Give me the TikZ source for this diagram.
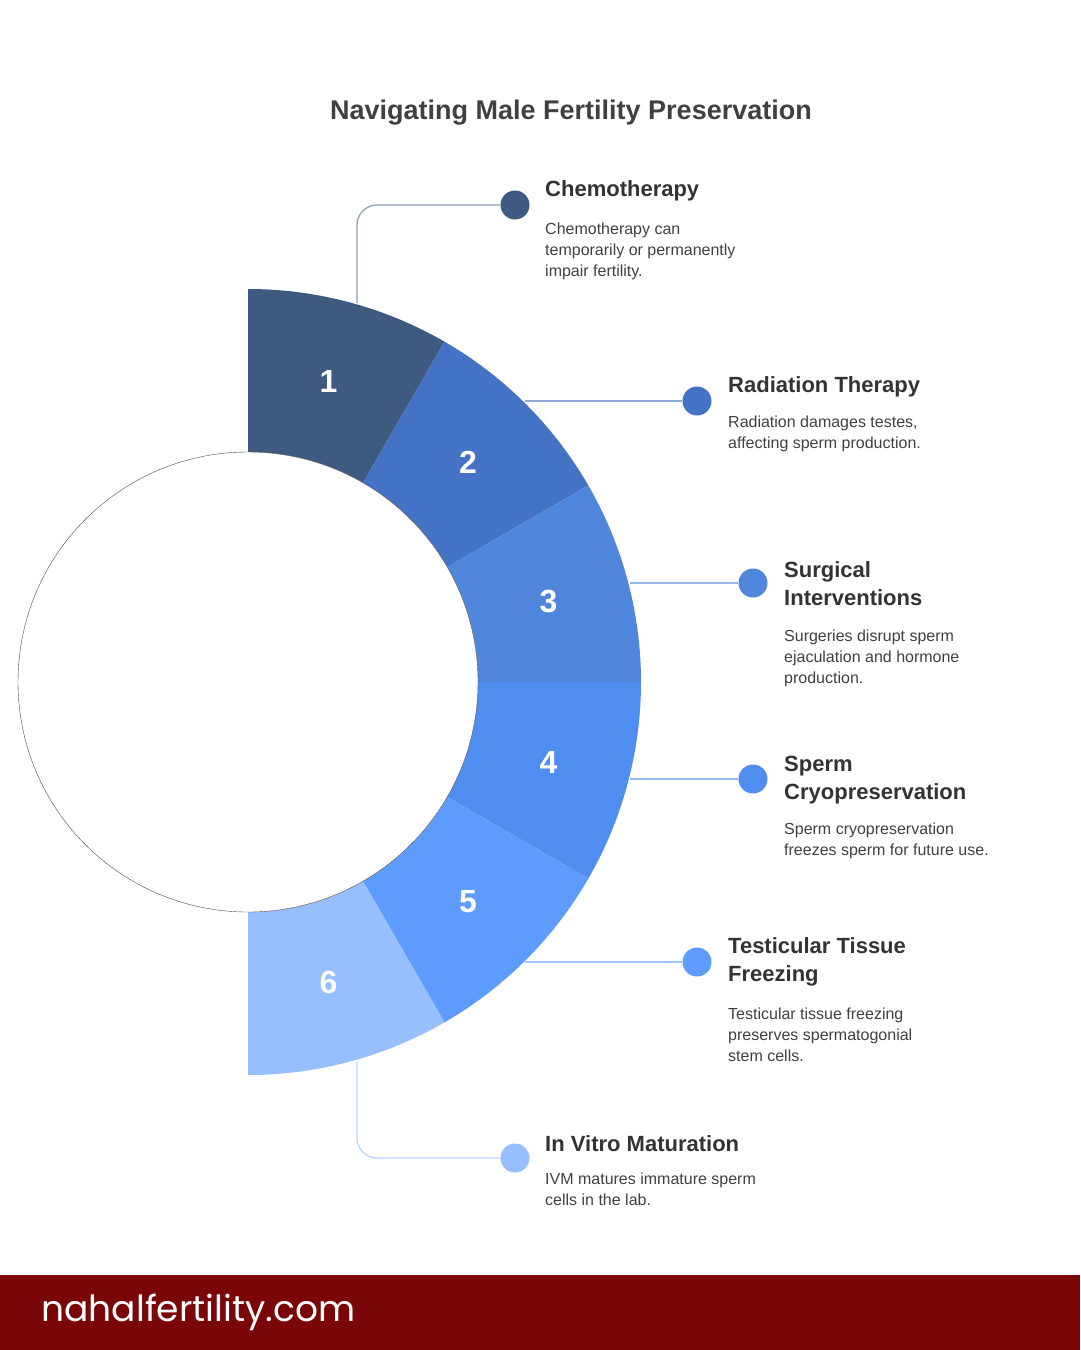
\documentclass[tikz,border=0pt]{standalone}
\usepackage{fontspec}
\setmainfont{Liberation Sans}
\newfontfamily\footfont{Poppins}
\usetikzlibrary{positioning, calc}
\definecolor{segA}{HTML}{3E5A80}
\definecolor{segB}{HTML}{4472C4}
\definecolor{segC}{HTML}{5087DC}
\definecolor{segD}{HTML}{4F8DF0}
\definecolor{segE}{HTML}{5E9BFF}
\definecolor{segF}{HTML}{97BEFF}
\definecolor{footred}{HTML}{7B0608}
\tikzset{
  dot/.style={circle, minimum size=29pt, inner sep=0pt},
  heading/.style={anchor=west, inner sep=0pt, text=black!80, font=\fontsize{22}{28}\selectfont\bfseries, align=left},
  blurb/.style={anchor=north west, inner sep=0pt, text=black!75, font=\fontsize{16}{21}\selectfont, align=left},
  num/.style={text=white, font=\fontsize{32}{32}\selectfont\bfseries},
  link/.style={line width=1.2pt}
}
\begin{document}
\begin{tikzpicture}[x=1pt, y=-1pt]
\useasboundingbox (0,0) rectangle (1080,1350);
\node[font=\fontsize{27}{32}\selectfont\bfseries, text=black!75] (title) at (571,113) {Navigating Male Fertility Preservation};
% ring segments
\coordinate (c) at (248,682);
\foreach \i/\col in {1/segA,2/segB,3/segC,4/segD,5/segE,6/segF}{
  \pgfmathsetmacro\a{120-30*\i}
  \pgfmathsetmacro\b{90-30*\i}
  \fill[\col] ($(c)+(\a:393 and -393)$) arc[start angle=-\a, end angle=-\b, radius=393]
    -- ($(c)+(\b:230 and -230)$) arc[start angle=-\b, end angle=-\a, radius=230] -- cycle;
  \pgfmathsetmacro\m{105-30*\i}
  \node[num] (n\i) at ($(c)+(\m:311 and -311)$) {\i};
}
\draw[black!70, fill=white] (c) circle[radius=230];
% dots
\node[dot, fill=segA] (d1) at (515,205) {};
\node[dot, fill=segB] (d2) at (697,401) {};
\node[dot, fill=segC] (d3) at (753,583) {};
\node[dot, fill=segD] (d4) at (753,779) {};
\node[dot, fill=segE] (d5) at (697,962) {};
\node[dot, fill=segF] (d6) at (515,1158) {};
\coordinate (s1) at (357,303);
\coordinate (s2) at (525,401);
\coordinate (s3) at (630,583);
\coordinate (s4) at (630,779);
\coordinate (s5) at (525,962);
\coordinate (s6) at (357,1062);
\draw[link, segA!60, rounded corners=20pt] (s1) |- (d1);
\draw[link, segB!60] (s2) -- (d2);
\draw[link, segC!60] (s3) -- (d3);
\draw[link, segD!60] (s4) -- (d4);
\draw[link, segE!60] (s5) -- (d5);
\draw[link, segF!70, rounded corners=20pt] (s6) |- (d6);
% texts
\node[heading] (h1) at (545,191) {Chemotherapy};
\node[blurb] (t1) at (545,223) {Chemotherapy can\\temporarily or permanently\\impair fertility.};
\node[heading] (h2) at (728,387) {Radiation Therapy};
\node[blurb] (t2) at (728,416) {Radiation damages testes,\\affecting sperm production.};
\node[heading] (h3) at (784,584) {Surgical\\Interventions};
\node[blurb] (t3) at (784,630) {Surgeries disrupt sperm\\ejaculation and hormone\\production.};
\node[heading] (h4) at (784,780) {Sperm\\Cryopreservation};
\node[blurb] (t4) at (784,823) {Sperm cryopreservation\\freezes sperm for future use.};
\node[heading] (h5) at (728,962) {Testicular Tissue\\Freezing};
\node[blurb] (t5) at (728,1008) {Testicular tissue freezing\\preserves spermatogonial\\stem cells.};
\node[heading] (h6) at (545,1144) {In Vitro Maturation};
\node[blurb] (t6) at (545,1173) {IVM matures immature sperm\\cells in the lab.};
% footer
\fill[footred] (0,1275) rectangle (1080,1350);
\node[anchor=west, text=white, font=\footfont\fontsize{36}{40}\selectfont] (site) at (38,1312) {nahalfertility.com};
\end{tikzpicture}
\end{document}
